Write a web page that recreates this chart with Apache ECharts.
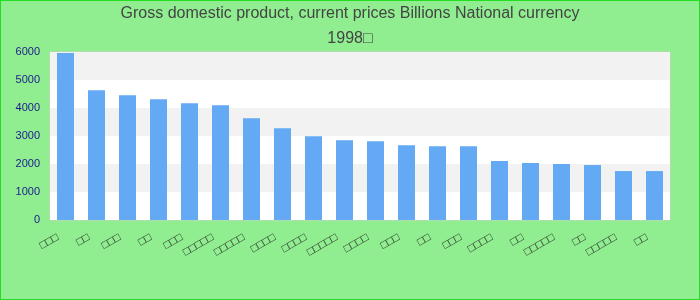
<!DOCTYPE html>
<html>
<head>
<meta charset="utf-8">
<script src="https://cdn.jsdelivr.net/npm/echarts@6/dist/echarts.min.js"></script>
<style>
html,body{margin:0;padding:0;background:#90EE90;}
#c{width:700px;height:300px;box-sizing:border-box;border:1px solid #22dd22;}
</style>
</head>
<body>
<div id="c"></div>
<script>
var titleLines = ['Gross domestic product, current prices Billions National currency', '1998\u25A1'];
var categories = ['\u25A1\u25A1\u25A1','\u25A1\u25A1','\u25A1\u25A1\u25A1','\u25A1\u25A1','\u25A1\u25A1\u25A1',
  '\u25A1\u25A1\u25A1\u25A1\u25A1','\u25A1\u25A1\u25A1\u25A1\u25A1','\u25A1\u25A1\u25A1\u25A1','\u25A1\u25A1\u25A1\u25A1','\u25A1\u25A1\u25A1\u25A1\u25A1',
  '\u25A1\u25A1\u25A1\u25A1','\u25A1\u25A1\u25A1','\u25A1\u25A1','\u25A1\u25A1\u25A1','\u25A1\u25A1\u25A1\u25A1',
  '\u25A1\u25A1','\u25A1\u25A1\u25A1\u25A1\u25A1','\u25A1\u25A1','\u25A1\u25A1\u25A1\u25A1\u25A1','\u25A1\u25A1'];
var values = [5960, 4635, 4456, 4314, 4171, 4100, 3636, 3280, 2995, 2852, 2816, 2674, 2638, 2638, 2103, 2032, 1996, 1961, 1747, 1747];
var yTicks = [0, 1000, 2000, 3000, 4000, 5000, 6000];

var chart = echarts.init(document.getElementById('c'), null, {renderer: 'canvas'});
chart.setOption({
  backgroundColor: '#90EE90',
  animation: false,
  title: {
    text: titleLines.join('\n'),
    left: 'center',
    top: 0,
    padding: 0,
    textStyle: {fontFamily: 'Liberation Sans, Arial, sans-serif', fontSize: 16, fontWeight: 'normal', color: '#444', lineHeight: 25}
  },
  grid: {left: 49, right: 29, top: 51, bottom: 79, show: true, backgroundColor: '#fff', borderColor: '#ccc', borderWidth: 1},
  xAxis: {
    type: 'category',
    data: categories,
    axisLine: {show: false},
    axisTick: {show: false},
    axisLabel: {rotate: 30, interval: 0, fontSize: 11, color: '#222', margin: 12, padding: [0, 9, 0, 0]}
  },
  yAxis: {
    type: 'value',
    min: yTicks[0],
    max: yTicks[yTicks.length - 1],
    interval: 1000,
    axisLine: {show: false},
    axisTick: {show: false},
    splitLine: {show: false},
    splitArea: {show: true, areaStyle: {color: ['#ffffff', '#f2f2f2']}},
    axisLabel: {fontSize: 11, color: '#1a1a8c', margin: 10, formatter: function (v) { return String(v); }}
  },
  series: [{
    type: 'bar',
    data: values,
    barWidth: 17,
    itemStyle: {color: '#63a9f4'}
  }]
});
</script>
</body>
</html>
